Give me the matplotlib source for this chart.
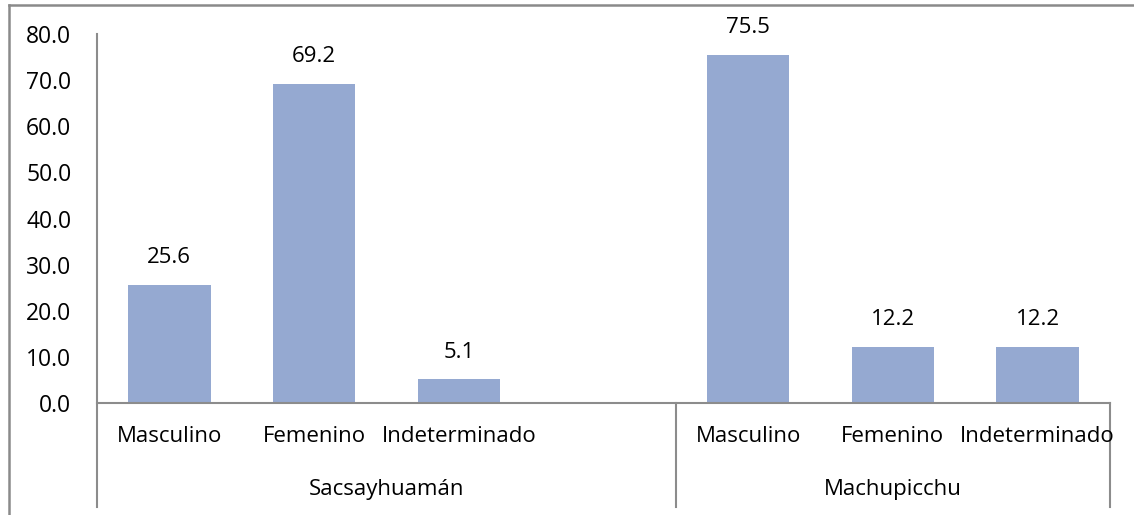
import numpy as np
import matplotlib
matplotlib.use('Agg')
import matplotlib.pyplot as plt
from matplotlib.lines import Line2D
import matplotlib.transforms as mtransforms

# Data
groups = ['Sacsayhuamán', 'Machupicchu']
categories = ['Masculino', 'Femenino', 'Indeterminado']
sacsayhuaman = [25.6, 69.2, 5.1]
machupicchu = [75.5, 12.2, 12.2]
yticks = [0, 10, 20, 30, 40, 50, 60, 70, 80]

# Plot settings
plt.rcParams['font.family'] = ['Open Sans', 'DejaVu Sans']
plt.rcParams['font.size'] = 16
bar_color = '#95A9D1'
line_color = '#8C8C8C'

W, H = 1134, 515
fig = plt.figure(figsize=(W / 100, H / 100), dpi=100)
fig.patch.set_facecolor('white')

# Plot area in pixels
left, right, top, bottom = 97, 1110, 34, 403
ax = fig.add_axes([left / W, (H - bottom) / H, (right - left) / W, (bottom - top) / H])

# Excel-style layout: 4 slots in first group (last one empty), 3 in second
x1 = np.arange(len(categories))
x2 = np.arange(len(categories)) + 4
xs = np.concatenate([x1, x2])
vals = sacsayhuaman + machupicchu
labels = categories + categories

bars = ax.bar(xs, vals, width=0.57, color=bar_color, zorder=2)
for x, v in zip(xs, vals):
    ax.annotate(f'{v:.1f}', xy=(x, v), xytext=(0, 19.5), textcoords='offset points',
                ha='center', va='center', fontsize=16)

ax.set_xlim(-0.5, 6.5)
ax.set_ylim(0, 80)
ax.set_yticks(yticks)
ax.set_yticklabels([f'{t:.1f}' for t in yticks])
ax.tick_params(axis='y', length=0, pad=18.5, labelsize=16.5)
ax.set_xticks([])
for s in ['top', 'right', 'left']:
    ax.spines[s].set_visible(False)
ax.spines['bottom'].set_color(line_color)
ax.spines['bottom'].set_linewidth(1.5)

# category labels and group labels below axis
ph = bottom - top
trans = mtransforms.blended_transform_factory(ax.transData, ax.transAxes)
y_cat = -(437 - bottom) / ph
y_grp = -(489 - bottom) / ph
y_sep = -(507 - bottom) / ph
y_top = 1.0
for x, lab in zip(xs, labels):
    ax.text(x, y_cat, lab, transform=trans, ha='center', va='center', fontsize=16)
ax.text(1.5, y_grp, groups[0], transform=trans, ha='center', va='center', fontsize=16)
ax.text(5.0, y_grp, groups[1], transform=trans, ha='center', va='center', fontsize=16)

# vertical separators
ax.add_line(Line2D([-0.5, -0.5], [y_sep, y_top], transform=trans, color=line_color,
                   lw=1.5, clip_on=False))
for xsep in [3.5, 6.5]:
    ax.add_line(Line2D([xsep, xsep], [y_sep, 0], transform=trans, color=line_color,
                       lw=1.5, clip_on=False))

# outer chart border (top and left visible)
fig.add_artist(Line2D([8.5 / W, 1.0], [1 - 4.5 / H, 1 - 4.5 / H], color='#8A8A8A', lw=1.8))
fig.add_artist(Line2D([8.5 / W, 8.5 / W], [0, 1 - 4.5 / H], color='#8A8A8A', lw=1.8))

fig.savefig('out.png', dpi=100, facecolor='white')
